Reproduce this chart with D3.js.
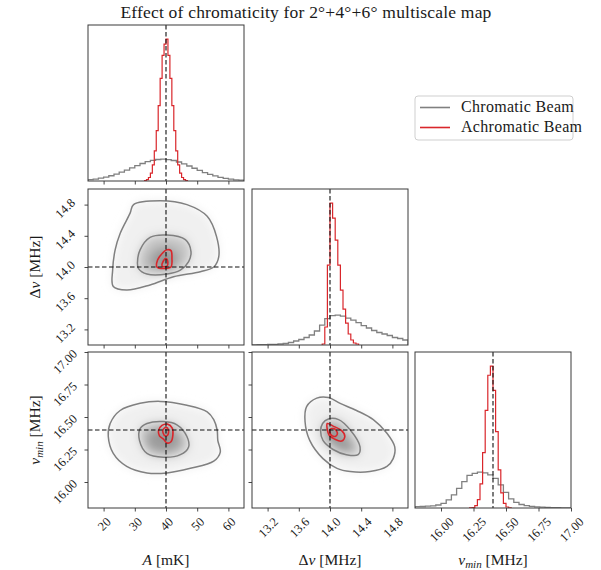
<!DOCTYPE html>
<html>
<head>
<meta charset="utf-8">
<script src="https://cdn.jsdelivr.net/npm/d3@7"></script>
<style>
  body { margin: 0; background: #fff; }
  svg { display: block; }
  text { font-family: "Liberation Serif", "DejaVu Serif", serif; fill: #1a1a1a; }
</style>
</head>
<body>
<svg id="chart" width="601" height="570"></svg>
<script>
// ---------------- parameter ranges, truths and ticks ----------------
const rangeA = [15, 65];
const rangeDnu = [13.0, 15.0];
const rangeNumin = [15.8, 17.0];
const truthValues = [40.0, 14.0, 16.4];

const ticksA = [20, 30, 40, 50, 60];
const ticksDnu = [13.2, 13.6, 14.0, 14.4, 14.8];
const ticksNumin = [16.00, 16.25, 16.50, 16.75, 17.00];
const tickLabelsA = ["20", "30", "40", "50", "60"];
const tickLabelsDnu = ["13.2", "13.6", "14.0", "14.4", "14.8"];
const tickLabelsNumin = ["16.00", "16.25", "16.50", "16.75", "17.00"];

const seriesNames = ["Chromatic Beam", "Achromatic Beam"];

// ---------------- 1D marginal histograms ----------------
// chromatic beam: 30 equal bins across each parameter range
const chromHistA = [13, 19, 28, 39, 52, 69, 88, 109, 131, 153, 174, 192, 206, 214, 217,
                    213, 204, 189, 170, 149, 127, 105, 84, 65, 50, 37, 26, 18, 12, 8];
const chromHistDnu = [2, 3, 4, 5, 7, 10, 15, 25, 40, 55, 75, 100, 140, 200, 265,
                      295, 300, 290, 270, 250, 225, 195, 170, 145, 125, 110, 95, 75, 65, 50];
const chromHistNumin = [13, 15, 18, 22, 30, 45, 80, 130, 195, 262, 325, 345, 357, 350, 330,
                        295, 230, 155, 90, 55, 35, 23, 17, 12, 9, 6, 4, 3, 2, 1];

// achromatic beam: finer bins, given by first edge and bin width
const achromHistA = [5, 14, 35, 78, 160, 300, 500, 750, 1020, 1250, 1360, 1410, 1250, 1020,
                     750, 500, 300, 160, 78, 35, 14, 5];
const achromStartA = 33.125, achromWidthA = 0.625;
const achromHistDnu = [10, 180, 800, 1420, 1270, 1050, 800, 550, 360, 220, 110, 50, 20, 10];
const achromStartDnu = 13.9, achromWidthDnu = 1 / 30;
const achromHistNumin = [1, 5, 23, 84, 240, 550, 970, 1320, 1410, 1170, 760, 380, 150, 45, 10, 2];
const achromStartNumin = 16.22, achromWidthNumin = 0.02;

// ---------------- 2D credible contours ----------------
// A vs Δν
const chromADnuOuter = [[29.6,14.80],[38.2,14.85],[46.7,14.80],[53.2,14.65],[56.2,14.39],[56.9,14.13],
  [55.3,14.00],[51.0,13.94],[42.4,13.875],[34.9,13.77],[27.4,13.705],[23.1,13.75],[22.9,13.96],
  [23.7,14.22],[25.3,14.43],[28.5,14.69]];
const chromADnuInner = [[30.85,14.05],[31.7,14.22],[34.9,14.38],[40.3,14.41],[46.2,14.35],[48.0,14.20],
  [47.25,14.07],[44.6,13.96],[40.3,13.91],[33.9,13.91],[31.2,13.98]];
const chromADnuCore = [[34.5,14.05],[36.0,14.20],[40.5,14.25],[44.0,14.15],[42.5,14.00],[37.0,13.98]];
const achromADnuOuter = [[37.1,14.0],[37.3,14.09],[38.7,14.17],[40.3,14.22],[41.6,14.21],[41.9,14.11],
  [41.6,14.0],[39.2,13.98]];
const achromADnuInner = [[38.8,14.01],[39.2,14.08],[40.0,14.11],[40.6,14.06],[40.3,14.01]];

// A vs ν_min
const chromANuOuter = [[21.5,16.35],[22.1,16.45],[25.3,16.55],[31.7,16.605],[38.15,16.62],[46.7,16.59],
  [53.2,16.54],[55.3,16.48],[56.4,16.40],[56.6,16.32],[57.4,16.23],[55.3,16.16],[47.8,16.105],
  [40.3,16.07],[33.9,16.07],[27.4,16.12],[23.1,16.22]];
const chromANuInner = [[31.7,16.41],[33.9,16.45],[39.2,16.465],[43.5,16.44],[46.7,16.35],[47.25,16.27],
  [44.6,16.21],[39.2,16.19],[33.9,16.22],[31.5,16.32]];
const chromANuCore = [[33.5,16.33],[36.0,16.40],[41.5,16.41],[45.0,16.32],[42.5,16.24],[36.0,16.24]];
const achromANuOuter = [[37.6,16.395],[38.7,16.435],[40.5,16.445],[42.0,16.415],[42.2,16.36],[41.6,16.31],
  [40.3,16.30],[39.2,16.33],[37.9,16.355]];
const achromANuInner = [[39.0,16.40],[40.0,16.42],[40.8,16.40],[40.5,16.36],[39.7,16.355],[39.1,16.375]];

// Δν vs ν_min
const chromDnuNuOuter = [[13.70,16.58],[13.83,16.645],[13.98,16.65],[14.13,16.605],[14.34,16.55],
  [14.555,16.48],[14.73,16.375],[14.83,16.27],[14.81,16.18],[14.73,16.12],[14.51,16.08],[14.26,16.08],
  [14.09,16.105],[13.91,16.18],[13.74,16.32],[13.68,16.465]];
const chromDnuNuInner = [[13.88,16.39],[13.905,16.45],[13.98,16.485],[14.11,16.48],[14.26,16.40],
  [14.385,16.27],[14.36,16.21],[14.21,16.21],[14.04,16.25],[13.91,16.32]];
const chromDnuNuCore = [[13.95,16.38],[14.02,16.44],[14.15,16.38],[14.30,16.27],[14.22,16.22],[14.05,16.26]];
const achromDnuNuOuter = [[13.965,16.45],[14.04,16.43],[14.15,16.395],[14.19,16.35],[14.15,16.315],
  [14.06,16.33],[13.99,16.36],[13.965,16.405]];
const achromDnuNuInner = [[14.0,16.405],[14.055,16.41],[14.095,16.375],[14.065,16.35],[14.01,16.365]];

// ---------------- layout ----------------
const SIZE = 156;
const colX = [88, 252, 415];
const rowY = [25, 189, 352];
const GRAY = "#808080", RED = "#d9262b";

const params = [
  { range: rangeA, ticks: ticksA, labels: tickLabelsA,
    chrom: chromHistA, achrom: achromHistA, aStart: achromStartA, aWidth: achromWidthA, yLabOff: 3 },
  { range: rangeDnu, ticks: ticksDnu, labels: tickLabelsDnu,
    chrom: chromHistDnu, achrom: achromHistDnu, aStart: achromStartDnu, aWidth: achromWidthDnu, yLabOff: 3 },
  { range: rangeNumin, ticks: ticksNumin, labels: tickLabelsNumin,
    chrom: chromHistNumin, achrom: achromHistNumin, aStart: achromStartNumin, aWidth: achromWidthNumin, yLabOff: 9 }
];

const pairs = {
  "1-0": { outer: chromADnuOuter, inner: chromADnuInner, core: chromADnuCore, rOuter: achromADnuOuter, rInner: achromADnuInner },
  "2-0": { outer: chromANuOuter, inner: chromANuInner, core: chromANuCore, rOuter: achromANuOuter, rInner: achromANuInner },
  "2-1": { outer: chromDnuNuOuter, inner: chromDnuNuInner, core: chromDnuNuCore, rOuter: achromDnuNuOuter, rInner: achromDnuNuInner }
};

const sx = params.map(p => d3.scaleLinear().domain(p.range).range([0, SIZE]));
const sy = params.map(p => d3.scaleLinear().domain(p.range).range([SIZE, 0]));

const svg = d3.select("#chart");
const defs = svg.append("defs");
defs.append("filter").attr("id", "soft")
  .attr("x", "-30%").attr("y", "-30%").attr("width", "160%").attr("height", "160%")
  .append("feGaussianBlur").attr("stdDeviation", 5);

function stepPath(x, y, counts, start, width) {
  const pts = [[start, 0]];
  counts.forEach((c, k) => pts.push([start + k * width, c]));
  pts.push([start + counts.length * width, 0]);
  return d3.line().x(d => x(d[0])).y(d => y(d[1])).curve(d3.curveStepAfter)(pts);
}

function closedPath(x, y, pts) {
  return d3.line().x(d => x(d[0])).y(d => y(d[1])).curve(d3.curveCatmullRomClosed.alpha(0.5))(pts);
}

const TICK_FS = 12.5;

function styleAxis(g) {
  g.select(".domain").remove();
  g.selectAll(".tick line").attr("stroke", "#333").attr("stroke-width", 0.9);
  g.selectAll(".tick text").attr("font-size", TICK_FS).attr("font-family", null).attr("fill", "#1a1a1a");
}

for (let i = 0; i < 3; i++) {
  for (let j = 0; j <= i; j++) {
    const g = svg.append("g").attr("transform", `translate(${colX[j]},${rowY[i]})`);
    const clipId = `clip-${i}-${j}`;
    defs.append("clipPath").attr("id", clipId)
      .append("rect").attr("width", SIZE).attr("height", SIZE);
    const body = g.append("g").attr("clip-path", `url(#${clipId})`);
    const x = sx[j];

    if (i === j) {
      const p = params[i];
      const yMax = 1.1 * d3.max([...p.chrom, ...p.achrom]);
      const hy = d3.scaleLinear().domain([0, yMax]).range([SIZE, 0]);
      const w = (p.range[1] - p.range[0]) / p.chrom.length;
      body.append("path").attr("d", stepPath(x, hy, p.chrom, p.range[0], w))
        .attr("fill", "none").attr("stroke", GRAY).attr("stroke-width", 1.3);
      body.append("path").attr("d", stepPath(x, hy, p.achrom, p.aStart, p.aWidth))
        .attr("fill", "none").attr("stroke", RED).attr("stroke-width", 1.2);
      body.append("line")
        .attr("x1", x(truthValues[j])).attr("x2", x(truthValues[j]))
        .attr("y1", 0).attr("y2", SIZE)
        .attr("stroke", "#111").attr("stroke-width", 1.1).attr("stroke-dasharray", "4.5,2.5");
    } else {
      const y = sy[i];
      const c = pairs[`${i}-${j}`];
      const shade = body.append("g").attr("filter", "url(#soft)");
      shade.append("path").attr("d", closedPath(x, y, c.outer)).attr("fill", "#f0f0f0");
      shade.append("path").attr("d", closedPath(x, y, c.inner)).attr("fill", "#c4c4c4");
      shade.append("path").attr("d", closedPath(x, y, c.core)).attr("fill", "#9c9c9c");
      shade.append("path").attr("d", closedPath(x, y, c.rInner)).attr("fill", "#777");

      [c.outer, c.inner].forEach(poly =>
        body.append("path").attr("d", closedPath(x, y, poly))
          .attr("fill", "none").attr("stroke", GRAY).attr("stroke-width", 1.5));
      [c.rOuter, c.rInner].forEach(poly =>
        body.append("path").attr("d", closedPath(x, y, poly))
          .attr("fill", "none").attr("stroke", RED).attr("stroke-width", 1.6));

      body.append("line")
        .attr("x1", x(truthValues[j])).attr("x2", x(truthValues[j]))
        .attr("y1", 0).attr("y2", SIZE)
        .attr("stroke", "#111").attr("stroke-width", 1.1).attr("stroke-dasharray", "4.5,2.5");
      body.append("line")
        .attr("y1", y(truthValues[i])).attr("y2", y(truthValues[i]))
        .attr("x1", 0).attr("x2", SIZE)
        .attr("stroke", "#111").attr("stroke-width", 1.1).attr("stroke-dasharray", "4.5,2.5");
    }

    // frame
    g.append("rect").attr("width", SIZE).attr("height", SIZE)
      .attr("fill", "none").attr("stroke", "#3a3a3a").attr("stroke-width", 1);

    // bottom ticks (labels on the last row only)
    const pj = params[j];
    const xAxis = d3.axisBottom(x).tickValues(pj.ticks).tickSize(3.5).tickSizeOuter(0)
      .tickFormat((d, k) => i === 2 ? pj.labels[k] : "");
    const gx = g.append("g").attr("transform", `translate(0,${SIZE})`).call(xAxis).call(styleAxis);
    if (i === 2) {
      gx.selectAll(".tick text").each(function () {
        const t = d3.select(this);
        t.attr("text-anchor", "middle").attr("y", null).attr("dy", "0.35em");
        const w = this.getComputedTextLength();
        const d = (w + 0.7 * TICK_FS) * Math.SQRT1_2;
        t.attr("transform", `translate(0,${8.5 + d / 2}) rotate(-45)`);
      });
    }

    // left ticks for off-diagonal panels
    if (i !== j) {
      const pi = params[i];
      const yAxis = d3.axisLeft(sy[i]).tickValues(pi.ticks).tickSize(3.5).tickSizeOuter(0)
        .tickFormat((d, k) => j === 0 ? pi.labels[k] : "");
      const gy = g.append("g").call(yAxis).call(styleAxis);
      if (j === 0) {
        gy.selectAll(".tick text").each(function () {
          const t = d3.select(this);
          t.attr("text-anchor", "middle").attr("x", null).attr("dy", "0.35em");
          t.attr("transform", `translate(-23,${pi.yLabOff}) rotate(-45)`);
        });
      }
    }
  }
}

// axis titles
const LAB_FS = 15.5;
function writeLabel(sel, kind) {
  if (kind === 0) {
    sel.append("tspan").attr("font-style", "italic").text("A");
    sel.append("tspan").text(" [mK]");
  } else if (kind === 1) {
    sel.append("tspan").text("Δ");
    sel.append("tspan").attr("font-style", "italic").text("ν");
    sel.append("tspan").text(" [MHz]");
  } else {
    sel.append("tspan").attr("font-style", "italic").text("ν");
    sel.append("tspan").attr("font-style", "italic").attr("font-size", 11).attr("dy", 3).text("min");
    sel.append("tspan").attr("dy", -3).text(" [MHz]");
  }
}
for (let j = 0; j < 3; j++) {
  const t = svg.append("text").attr("x", colX[j] + SIZE / 2).attr("y", 565)
    .attr("text-anchor", "middle").attr("font-size", LAB_FS);
  writeLabel(t, j);
}
for (let i = 1; i < 3; i++) {
  const t = svg.append("text")
    .attr("transform", `translate(40,${rowY[i] + SIZE / 2}) rotate(-90)`)
    .attr("text-anchor", "middle").attr("font-size", LAB_FS);
  writeLabel(t, i);
}

// title
svg.append("text").attr("x", 306).attr("y", 18).attr("text-anchor", "middle")
  .attr("font-size", 17.5).attr("letter-spacing", 0.2)
  .text("Effect of chromaticity for 2°+4°+6° multiscale map");

// legend
const legend = svg.append("g").attr("transform", "translate(415,96)");
legend.append("rect").attr("width", 158).attr("height", 44).attr("rx", 3)
  .attr("fill", "#fff").attr("stroke", "#cfcfcf").attr("stroke-width", 1);
[GRAY, RED].forEach((col, k) => {
  const yy = 11.5 + k * 20;
  legend.append("line").attr("x1", 5).attr("x2", 35).attr("y1", yy).attr("y2", yy)
    .attr("stroke", col).attr("stroke-width", 1.6);
  legend.append("text").attr("x", 46).attr("y", yy + 4.5).attr("font-size", 16)
    .attr("letter-spacing", 0.3).text(seriesNames[k]);
});
</script>
</body>
</html>
